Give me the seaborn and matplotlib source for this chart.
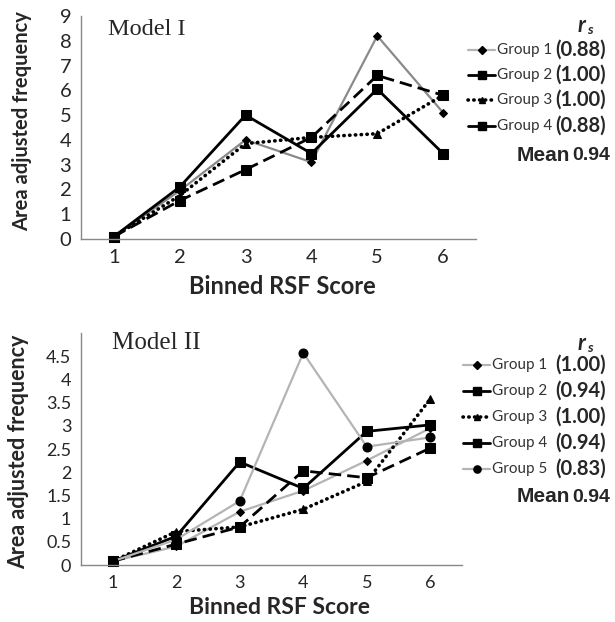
import numpy as np
import pandas as pd
import matplotlib.pyplot as plt
import seaborn as sns
from matplotlib.lines import Line2D

# Datos
bins = [1, 2, 3, 4, 5, 6]
bin_labels = ["1", "2", "3", "4", "5", "6"]

m1_group1 = [0.1, 1.95, 4.0, 3.1, 8.2, 5.1]
m1_group2 = [0.1, 1.55, 2.8, 4.1, 6.6, 5.8]
m1_group3 = [0.1, 1.75, 3.85, 4.1, 4.25, 5.8]
m1_group4 = [0.1, 2.1, 5.0, 3.45, 6.05, 3.45]
m1_groups = ["Group 1", "Group 2", "Group 3", "Group 4"]
m1_rs = ["(0.88)", "(1.00)", "(1.00)", "(0.88)"]
m1_mean = "0.94"

m2_group1 = [0.08, 0.4, 1.15, 1.6, 2.25, 2.95]
m2_group2 = [0.08, 0.45, 0.82, 2.03, 1.88, 2.52]
m2_group3 = [0.08, 0.72, 0.82, 1.2, 1.8, 3.58]
m2_group4 = [0.08, 0.62, 2.22, 1.65, 2.88, 3.02]
m2_group5 = [0.08, 0.55, 1.38, 4.57, 2.55, 2.75]
m2_groups = ["Group 1", "Group 2", "Group 3", "Group 4", "Group 5"]
m2_rs = ["(1.00)", "(0.94)", "(1.00)", "(0.94)", "(0.83)"]
m2_mean = "0.94"

m1_yticks = [0, 1, 2, 3, 4, 5, 6, 7, 8, 9]
m1_yticklabels = ["0", "1", "2", "3", "4", "5", "6", "7", "8", "9"]
m2_yticks = [0, 0.5, 1, 1.5, 2, 2.5, 3, 3.5, 4, 4.5]
m2_yticklabels = ["0", "0.5", "1", "1.5", "2", "2.5", "3", "3.5", "4", "4.5"]

sns.set_style("white")
plt.rcParams['font.family'] = ['Lato', 'DejaVu Sans']

W, H = 615, 622
fig = plt.figure(figsize=(6.15, 6.22), dpi=100)


def fx(x):
    return x / W


def fy(y):
    return 1 - y / H


# estilos de cada grupo
dashes = (0, (4.5, 2.2))
dots = (0, (0.1, 1.5))
st_g1a = dict(color="#8a8a8a", lw=1.6, linestyle="-", marker="D", markersize=4.5)
st_g1b = dict(color="#b4b4b4", lw=1.6, linestyle="-", marker="D", markersize=4.5)
st_g2 = dict(color="black", lw=2.0, linestyle=dashes, marker="s", markersize=6.5)
st_g3 = dict(color="black", lw=2.6, linestyle=dots, dash_capstyle="round", marker="^", markersize=6)
st_g4 = dict(color="black", lw=2.0, linestyle="-", marker="s", markersize=6.5)
st_g5 = dict(color="#b4b4b4", lw=1.6, linestyle="-", marker="o", markersize=6.5)


def draw_lines(ax, series, styles):
    for vals, st in zip(series, styles):
        sns.lineplot(x=bins, y=vals, ax=ax, markerfacecolor="black",
                     markeredgecolor="black", clip_on=False, **st)


def style_axis(ax, yticks, ylabels, ymax, fs):
    ax.set_xlim(0.5, 6.5)
    ax.set_ylim(0, ymax)
    ax.set_xticks(bins)
    ax.set_xticklabels(bin_labels, fontsize=fs)
    ax.set_xticks(np.arange(0.5, 7, 1), minor=True)
    ax.set_yticks(yticks)
    ax.set_yticklabels(ylabels, fontsize=fs)
    ax.tick_params(axis="x", which="major", length=0, pad=7)
    ax.tick_params(axis="x", which="minor", length=4, color="#888888", direction="out")
    ax.tick_params(axis="y", length=3, color="#888888", direction="out", pad=4)
    for s in ["top", "right"]:
        ax.spines[s].set_visible(False)
    for s in ["left", "bottom"]:
        ax.spines[s].set_color("#888888")
        ax.spines[s].set_linewidth(1.0)
    ax.set_facecolor("white")


def draw_legend(x0, x1, xtext, xval, rows, names, vals, styles, y_rs, y_mean, mean):
    for y, name, val, st in zip(rows, names, vals, styles):
        st2 = dict(st)
        if st2["linestyle"] == dashes:
            st2["linestyle"] = "-"
        st2["markersize"] = st2["markersize"] * 0.8
        ln = Line2D([fx(x0), fx((x0 + x1) / 2), fx(x1)], [fy(y)] * 3,
                    transform=fig.transFigure, markevery=[1],
                    markerfacecolor="black", markeredgecolor="black", **st2)
        fig.add_artist(ln)
        fig.text(fx(xtext), fy(y), name, fontsize=11, va="center", ha="left", color="#333333")
        fig.text(fx(xval), fy(y), val, fontsize=14.5, fontweight="bold", va="center", ha="left")
    fig.text(fx(578), fy(y_rs), "r", fontsize=16, fontweight="bold", style="italic",
             va="center", ha="left")
    fig.text(fx(587), fy(y_rs + 5), "s", fontsize=10, fontweight="bold", style="italic",
             va="center", ha="left")
    fig.text(fx(517), fy(y_mean), "Mean", fontsize=15, fontweight="bold", va="center",
             ha="left", family=["Liberation Sans", "DejaVu Sans"])
    fig.text(fx(572), fy(y_mean), mean, fontsize=14, fontweight="bold", va="center",
             ha="left", family=["Liberation Sans", "DejaVu Sans"])


# Modelo I
ax1 = fig.add_axes([fx(81), fy(239), fx(476) - fx(81), fy(16) - fy(239)])
st1 = [st_g1a, st_g2, st_g3, st_g4]
draw_lines(ax1, [m1_group1, m1_group2, m1_group3, m1_group4], st1)
style_axis(ax1, m1_yticks, m1_yticklabels, 9, 14.5)
ax1.text(0.068, 0.94, "Model I", transform=ax1.transAxes, fontsize=17.5, va="center",
         ha="left", family=["Liberation Serif", "DejaVu Serif"])
ax1.set_xlabel("Binned RSF Score", fontsize=17, fontweight="bold")
ax1.xaxis.set_label_coords(0.509, -0.215)
ax1.xaxis.label.set_va("center")
ax1.set_ylabel("Area adjusted frequency", fontsize=14.5, fontweight="bold")
ax1.yaxis.set_label_coords(-0.149, 0.529)
ax1.yaxis.label.set_va("center")
draw_legend(468, 495, 497, 555, [50, 75, 100, 126], m1_groups, m1_rs,
            [st_g1b, st_g2, st_g3, st_g4], 25, 155, m1_mean)

# Modelo II
ax2 = fig.add_axes([fx(81), fy(565), fx(462) - fx(81), fy(333) - fy(565)])
st2 = [st_g1b, st_g2, st_g3, st_g4, st_g5]
draw_lines(ax2, [m2_group1, m2_group2, m2_group3, m2_group4, m2_group5], st2)
style_axis(ax2, m2_yticks, m2_yticklabels, 5, 13)
ax2.text(0.081, 0.957, "Model II", transform=ax2.transAxes, fontsize=18, va="center",
         ha="left", family=["Liberation Serif", "DejaVu Serif"])
ax2.set_xlabel("Binned RSF Score", fontsize=16.5, fontweight="bold")
ax2.xaxis.set_label_coords(0.522, -0.182)
ax2.xaxis.label.set_va("center")
ax2.set_ylabel("Area adjusted frequency", fontsize=15.5, fontweight="bold")
ax2.yaxis.set_label_coords(-0.165, 0.487)
ax2.yaxis.label.set_va("center")
draw_legend(463, 490, 492, 555, [365, 391, 417, 443, 469], m2_groups, m2_rs,
            st2, 343, 497, m2_mean)

fig.savefig("out.png", dpi=100, facecolor="white")
